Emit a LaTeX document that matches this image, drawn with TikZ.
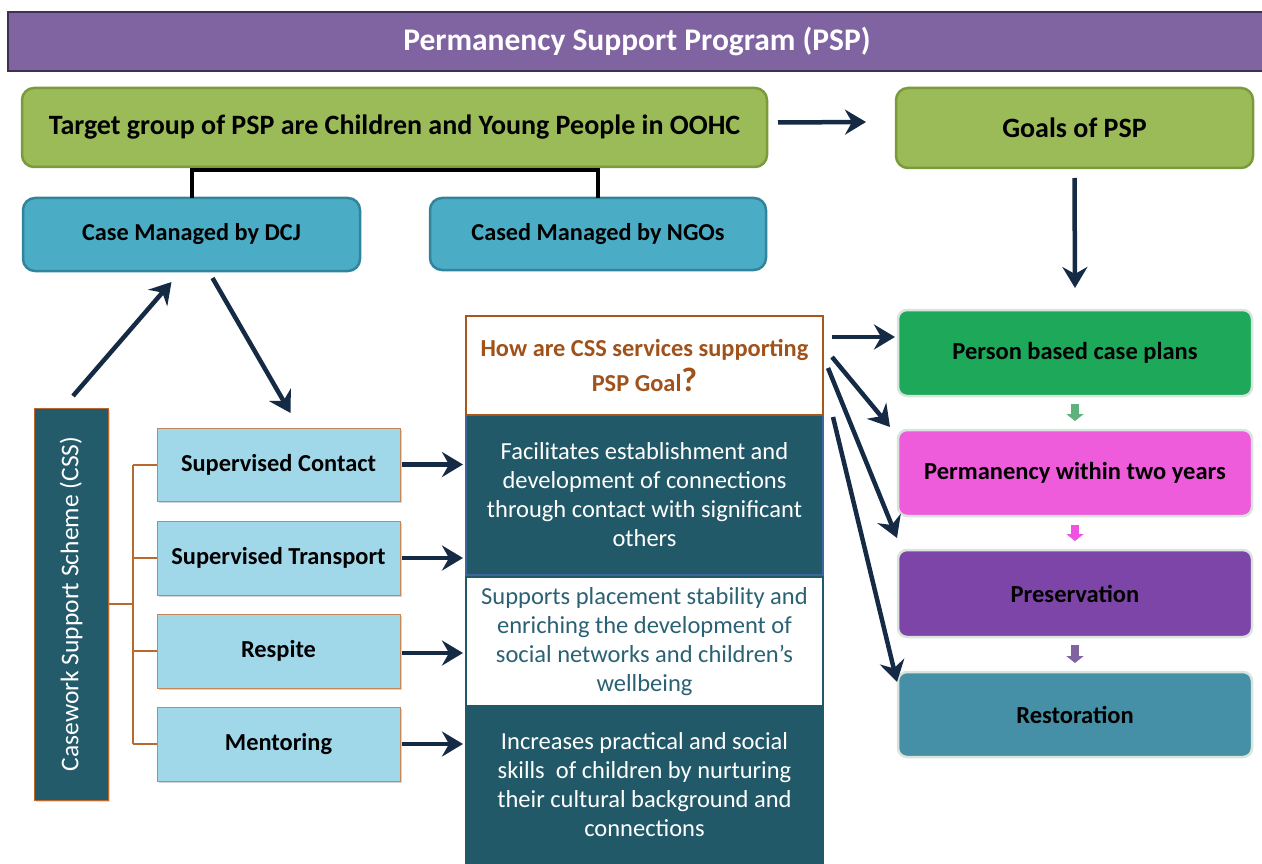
\documentclass[tikz,border=0pt]{standalone}
\usepackage{fontspec}
\setmainfont{Carlito}
\usetikzlibrary{arrows.meta,calc,shadows}
\definecolor{titlefill}{HTML}{8064A2}
\definecolor{titleline}{HTML}{3F3151}
\definecolor{olive}{HTML}{9BBB59}
\definecolor{oliveline}{HTML}{7A9A3C}
\definecolor{cyanbox}{HTML}{4BACC6}
\definecolor{cyanline}{HTML}{31849B}
\definecolor{navy}{HTML}{152A45}
\definecolor{cssfill}{HTML}{235B6B}
\definecolor{brown}{HTML}{B8692E}
\definecolor{lightblue}{HTML}{A0D8EA}
\definecolor{qline}{HTML}{A8561A}
\definecolor{qtext}{HTML}{A0521A}
\definecolor{tealbox}{HTML}{215968}
\definecolor{tealline}{HTML}{3D6699}
\definecolor{tealtext}{HTML}{2B6273}
\definecolor{greenbox}{HTML}{1EA85A}
\definecolor{magbox}{HTML}{EE5BDB}
\definecolor{purbox}{HTML}{7E45A8}
\definecolor{restbox}{HTML}{4590A6}
\definecolor{glow}{HTML}{D9E5DC}
\definecolor{sgreen}{HTML}{60B27D}
\definecolor{smag}{HTML}{F052E4}
\definecolor{spur}{HTML}{8064A2}
\begin{document}
\begin{tikzpicture}[x=1pt,y=-1pt,
  every node/.style={inner sep=0pt, outer sep=0pt, align=center},
  rbox/.style={rounded corners=12pt, line width=2.5pt},
  subbox/.style={fill=lightblue, draw=brown!80, line width=1pt, minimum width=243pt,
    font=\fontsize{24.4}{28}\selectfont\bfseries,
    drop shadow={shadow xshift=1.5pt, shadow yshift=-2pt, opacity=0.35}},
  goalbox/.style={rounded corners=9pt, draw=glow, line width=2.5pt, minimum width=354pt,
    font=\fontsize{24.5}{28}\selectfont\bfseries},
  midbox/.style={minimum width=357pt, font=\fontsize{24.5}{29}\selectfont},
  arr/.style={draw=navy, line width=4.5pt, -{Stealth[length=21pt, width=25pt, inset=7pt]}},
  brk/.style={draw=brown, line width=2pt},
  small/.style={line width=8pt, -{Triangle[width=17pt, length=7pt]}}
]
\useasboundingbox (0,0) rectangle (1262,864);

% title
\node[fill=titlefill, draw=titleline, line width=2.5pt, minimum width=1258pt, minimum height=59pt,
  text=white, font=\fontsize{31.5}{36}\selectfont\bfseries] (title) at (637,41.5) {Permanency Support Program (PSP)};

% top row
\node[rbox, fill=olive, draw=oliveline, minimum width=745pt, minimum height=79pt,
  font=\fontsize{28}{32}\selectfont\bfseries] (tgt) at (394.5,127.5) {Target group of PSP are Children and Young People in OOHC};
\node[rbox, fill=olive, draw=oliveline, minimum width=357pt, minimum height=80pt,
  font=\fontsize{28}{32}\selectfont\bfseries] (goals) at (1074.5,128) {Goals of PSP};

\node[rbox, fill=cyanbox, draw=cyanline, minimum width=337pt, minimum height=73pt,
  font=\fontsize{24.3}{28}\selectfont\bfseries] (dcj) at (191.5,234.5) {Case Managed by DCJ};
\node[rbox, fill=cyanbox, draw=cyanline, minimum width=336pt, minimum height=72pt,
  font=\fontsize{24.3}{28}\selectfont\bfseries] (ngo) at (598,234) {Cased Managed by NGOs};

% CSS
\node[fill=cssfill, draw=brown, line width=1pt, minimum width=74pt, minimum height=392pt,
  drop shadow={shadow xshift=1.5pt, shadow yshift=-2pt, opacity=0.3}] (css) at (71,604) {};
\node[rotate=90, text=white, font=\fontsize{25.5}{30}\selectfont] (csst) at (css.center) {Casework Support Scheme (CSS)};

\node[subbox, minimum height=73pt] (sc) at (278.5,464.5) {Supervised Contact};
\node[subbox, minimum height=74pt] (st) at (278.5,558) {Supervised Transport};
\node[subbox, minimum height=74pt] (rs) at (278.5,651) {Respite};
\node[subbox, minimum height=74pt] (mt) at (278.5,744) {Mentoring};

% middle column
\node[midbox, fill=tealbox, draw=tealline, line width=1.5pt, minimum height=160pt, text=white] (fac) at (644.5,495)
  {Facilitates establishment and\\development of connections\\through contact with significant\\others};
\node[midbox, fill=white, draw=tealbox, line width=1.5pt, minimum height=129pt, text=tealtext] (sup) at (644.5,641.5)
  {Supports placement stability and\\enriching the development of\\social networks and children’s\\wellbeing};
\node[midbox, fill=tealbox, draw=tealbox, line width=1.5pt, minimum height=158pt, text=white] (inc) at (644.5,785)
  {Increases practical and social\\skills\ \ of children by nurturing\\their cultural background and\\connections};
\node[fill=white, draw=qline, line width=2.5pt, minimum width=357pt, minimum height=99pt, text=qtext,
  font=\fontsize{24.4}{35}\selectfont\bfseries] (q) at (644.5,365.5)
  {How are CSS services supporting\\PSP Goal{\fontsize{34}{34}\selectfont ?}};

% right column
\node[goalbox, fill=greenbox, minimum height=86pt] (pbc) at (1075,353) {Person based case plans};
\node[goalbox, fill=magbox, minimum height=86pt] (perm) at (1075,473) {Permanency within two years};
\node[goalbox, fill=purbox, minimum height=87pt] (pres) at (1075,593.5) {Preservation};
\node[goalbox, fill=restbox, minimum height=85pt] (rest) at (1075,714.5) {Restoration};

% connectors
\draw[line width=4pt, black] (dcj.north) |- ($(tgt.south)+(0,3)$) -| (ngo.north);
\draw[arr] ($(tgt.east)+(11,-5)$) -- ($(goals.west)+(-30,-6)$);
\draw[arr] ($(goals.south)+(0,10)$) -- ($(pbc.north)+(0,-22)$);
\draw[arr] ($(css.north)+(2,-12)$) -- ($(dcj.south)+(-20,11)$);
\draw[arr] ($(dcj.south)+(21,7)$) -- ($(sc.north)+(12,-15)$);

\draw[brk] (css.east) -- ++(25,0) coordinate (bj);
\draw[brk] (bj |- sc.west) -- (bj |- mt.west);
\foreach \b in {sc,st,rs,mt} \draw[brk] (bj |- \b.west) -- (\b.west);

\draw[arr] ($(sc.east)+(2,0)$) -- ($(sc.east -| fac.west)+(-3,0)$);
\draw[arr] ($(st.east)+(2,0)$) -- ($(st.east -| fac.west)+(-3,0)$);
\draw[arr] ($(rs.east)+(2,2)$) -- ($(rs.east -| sup.west)+(-3,2)$);
\draw[arr] ($(mt.east)+(2,0)$) -- ($(mt.east -| inc.west)+(-3,0)$);

\draw[arr] ($(q.north east)+(9,21)$) -- ($(pbc.west)+(-3,-16)$);
\draw[arr] ($(q.north east)+(9,41)$) -- ($(perm.north west)+(-8,-3)$);
\draw[arr] ($(q.north east)+(5,52)$) -- ($(pres.north west)+(-1,-12)$);
\draw[arr] ($(q.south east)+(10,2)$) -- ($(rest.north west)+(-1,10)$);

\draw[small, sgreen] ($(pbc.south)+(0,8)$) -- ($(perm.north)+(0,-9)$);
\draw[small, smag] ($(perm.south)+(0,9)$) -- ($(pres.north)+(0,-9)$);
\draw[small, spur] ($(pres.south)+(0,8)$) -- ($(rest.north)+(0,-9)$);
\end{tikzpicture}
\end{document}
